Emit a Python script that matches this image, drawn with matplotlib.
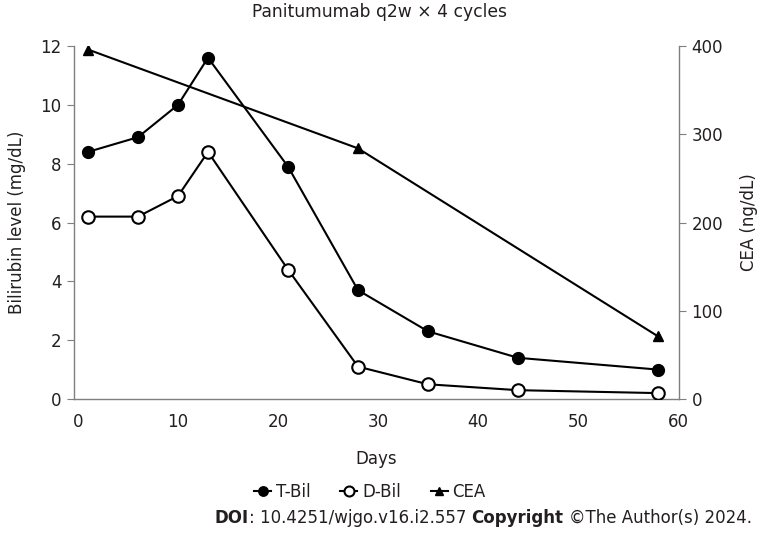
"""
Bilirubin and CEA course under panitumumab
"""
import matplotlib
matplotlib.use('Agg')
import matplotlib.pyplot as plt

# data
days_bil = [1, 6, 10, 13, 21, 28, 35, 44, 58]
t_bil = [8.4, 8.9, 10.0, 11.6, 7.9, 3.7, 2.3, 1.4, 1.0]
d_bil = [6.2, 6.2, 6.9, 8.4, 4.4, 1.1, 0.5, 0.3, 0.2]
days_cea = [1, 28, 58]
cea = [396, 284, 71]

xticks = [0, 10, 20, 30, 40, 50, 60]
yticks_left = [0, 2, 4, 6, 8, 10, 12]
yticks_right = [0, 100, 200, 300, 400]

txt = '#231f20'
spine_c = '#7f7f7f'
plt.rcParams['font.family'] = 'DejaVu Sans'
plt.rcParams['font.size'] = 12

fig = plt.figure(figsize=(7.64, 5.33), dpi=100)
ax = fig.add_axes([74/764, 1-399/533, (679-74)/764, (399-46)/533])
ax2 = ax.twinx()

l1, = ax.plot(days_bil, t_bil, color='k', lw=1.5, marker='o', ms=8.5, mfc='k', mec='k', label='T-Bil', zorder=3)
l2, = ax.plot(days_bil, d_bil, color='k', lw=1.5, marker='o', ms=9, mfc='white', mec='k', mew=1.5, label='D-Bil', zorder=3)
l3, = ax2.plot(days_cea, cea, color='k', lw=1.5, marker='^', ms=7.5, mfc='k', mec='k', label='CEA', zorder=3)

ax.set_xlim(-0.4, 60.1)
ax.set_ylim(0, 12)
ax2.set_ylim(0, 400)
ax.set_xticks(xticks)
ax.set_yticks(yticks_left)
ax2.set_yticks(yticks_right)

for a in (ax, ax2):
    a.spines['top'].set_visible(False)
    for s in ('left', 'right', 'bottom'):
        a.spines[s].set_color(spine_c)
        a.spines[s].set_linewidth(1.0)
ax.spines['right'].set_visible(False)
ax2.spines['left'].set_visible(False)
ax2.spines['bottom'].set_visible(False)

ax.tick_params(axis='x', length=0, pad=10, labelcolor=txt, labelsize=12)
ax.tick_params(axis='y', length=5, color=spine_c, pad=4, labelcolor=txt, labelsize=12)
ax2.tick_params(axis='y', length=5, color=spine_c, pad=4, labelcolor=txt, labelsize=12)

ax.set_xlabel('Days', color=txt, fontsize=12, labelpad=14)
ax.set_ylabel('Bilirubin level (mg/dL)', color=txt, fontsize=12, labelpad=10)
ax2.set_ylabel('CEA (ng/dL)', color=txt, fontsize=12, labelpad=12)

fig.text(379/764, 1-12/533, 'Panitumumab q2w \u00d7 4 cycles', ha='center', va='center',
         color=txt, fontsize=12.3)

fig.legend(handles=[l1, l2, l3], loc='center', bbox_to_anchor=(370/764, 1-492/533), ncol=3,
           frameon=False, handlelength=1.0, handletextpad=0.3, columnspacing=1.8,
           fontsize=12, labelcolor=txt, markerscale=0.8)

# source line, drawn right to left, each piece hung on the one after it
t4 = fig.text(752/764, 1-518/533, '\u00a9The Author(s) 2024.', ha='right', va='center', color=txt, fontsize=12)
t3 = ax.annotate('Copyright', xy=(0, 0), xycoords=t4, xytext=(-4, 0), textcoords='offset points',
                 ha='right', va='bottom', fontweight='bold', color=txt, fontsize=12, annotation_clip=False)
t2 = ax.annotate(': 10.4251/wjgo.v16.i2.557', xy=(0, 0), xycoords=t3, xytext=(-4, 0), textcoords='offset points',
                 ha='right', va='bottom', color=txt, fontsize=12, annotation_clip=False)
t1 = ax.annotate('DOI', xy=(0, 0), xycoords=t2, ha='right', va='bottom', fontweight='bold',
                 color=txt, fontsize=12, annotation_clip=False)

fig.savefig('out.png', dpi=100)
